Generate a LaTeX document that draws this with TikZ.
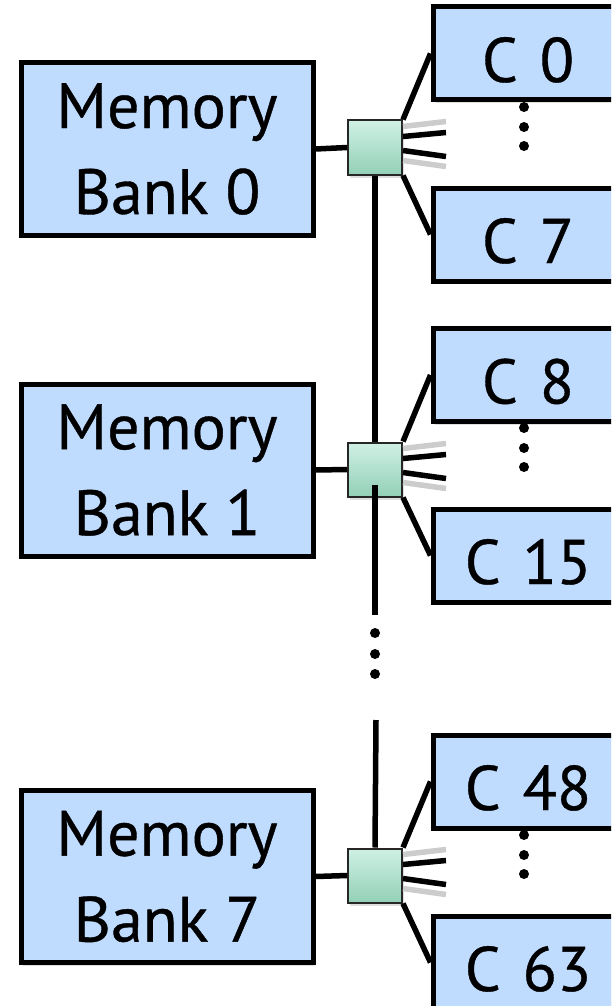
\documentclass[tikz,border=0pt]{standalone}
\usepackage{fontspec}
\setmainfont{PT Sans}[FakeBold=0.6]
\newfontfamily\corefont{PT Sans}[FakeBold=0.6,WordSpace=1.3]
\usetikzlibrary{calc,shadows}
\definecolor{boxblue}{RGB}{191,219,254}
\definecolor{swgreen}{RGB}{160,226,200}
\begin{document}
\begin{tikzpicture}[x=1pt,y=-1pt,
  shade/.style={drop shadow={shadow xshift=2pt,shadow yshift=-3pt,opacity=0.25}},
  membox/.style={draw=black,line width=5pt,fill=boxblue,minimum width=292pt,minimum height=172pt,
    inner sep=0pt,align=center,font=\fontsize{64}{86}\selectfont,shade},
  corebox/.style={draw=black,line width=5pt,fill=boxblue,minimum width=190pt,minimum height=93pt,
    inner sep=0pt,text height=57pt,text depth=0pt,font=\corefont\fontsize{63}{70}\selectfont,shade},
  switchbox/.style={draw=black!85,line width=2pt,minimum size=54pt,inner sep=0pt,
    top color=swgreen!50!white,bottom color=swgreen!92!black,shade},
  wire/.style={line width=5.5pt,black},
  ghost/.style={line width=5.5pt,black!20},
  vdot/.style={circle,fill=black,inner sep=0pt,minimum size=10pt}]
\useasboundingbox (0,0) rectangle (611,1006);
\clip (0,0) rectangle (611,1006);

% memory banks
\node[membox] (m0) at (167,149) {Memory\\Bank 0};
\node[membox] (m1) at (167,470) {Memory\\Bank 1};
\node[membox] (m7) at (167,876.5) {Memory\\Bank 7};

% cores
\node[corebox] (c0)  at (528,53.5)  {C 0};
\node[corebox] (c7)  at (528,234.5) {C 7};
\node[corebox] (c8)  at (528,375)   {C 8};
\node[corebox] (c15) at (528,555.5) {C 15};
\node[corebox] (c48) at (528,781.5) {C 48};
\node[corebox] (c63) at (528,962.5) {C 63};

% vertical dots between cores
\foreach \n/\y in {a/107,b/127,c/146,d/428,e/448,f/467,g/835,h/855,i/874}
  \node[vdot] (d\n) at (524,\y) {};

% switches
\node[switchbox] (s0) at (375,147.5) {};
\node[switchbox] (s1) at (375,469.5) {};
\node[switchbox] (s7) at (375,875.5) {};

% bus coordinates
\coordinate (b1) at (375,485);
\coordinate (b2) at (375,615);
\coordinate (b3) at (376,720);
\foreach \n/\y in {x/633,y/654,z/674}
  \node[vdot] (bd\n) at (375,\y) {};

% stub ends
\foreach \s in {0,1,7}{
  \coordinate (g1\s) at ($(s\s.east)+(43,-26)$);
  \coordinate (k1\s) at ($(s\s.east)+(43,-15)$);
  \coordinate (k2\s) at ($(s\s.east)+(43,9)$);
  \coordinate (g2\s) at ($(s\s.east)+(43,19)$);
  \draw[ghost] ($(s\s.east)+(0,-21)$) -- (g1\s);
  \draw[ghost] ($(s\s.east)+(0,13)$) -- (g2\s);
  \draw[wire] ($(s\s.east)+(0,-11)$) -- (k1\s);
  \draw[wire] ($(s\s.east)+(0,3)$) -- (k2\s);
  \draw[wire] (m\s.east) -- (s\s.west);
}

% fan-out to cores
\draw[wire] (s0.north east) -- (c0.west);
\draw[wire] (s0.south east) -- (c7.west);
\draw[wire] (s1.north east) -- (c8.west);
\draw[wire] (s1.south east) -- (c15.west);
\draw[wire] (s7.north east) -- (c48.west);
\draw[wire] (s7.south east) -- (c63.west);

% bus
\draw[wire] (s0.south) -- (s1.north);
\draw[wire] (b1) -- (b2);
\draw[wire] (b3) -- (s7.north);
\end{tikzpicture}
\end{document}
